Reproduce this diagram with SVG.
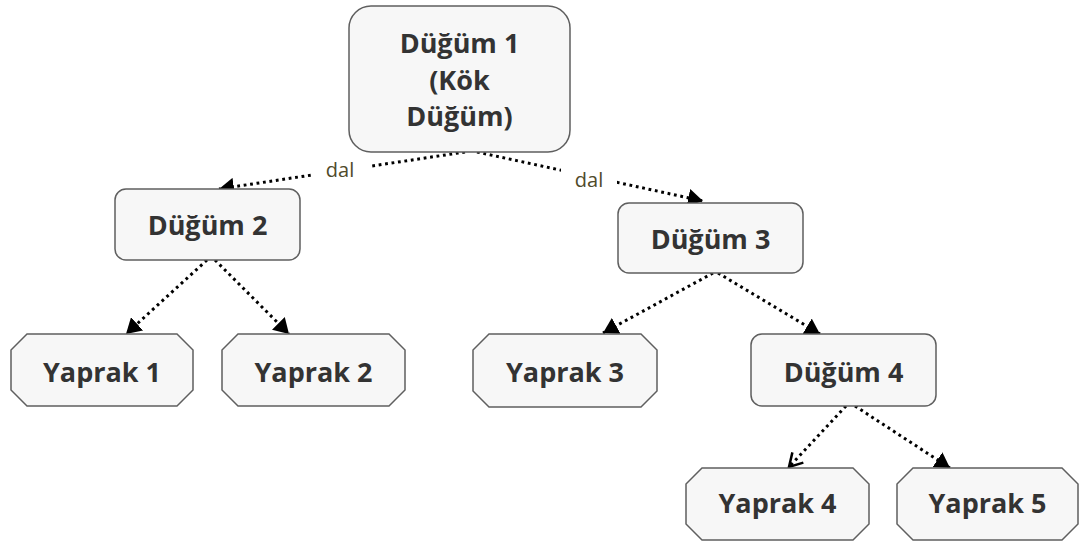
<svg xmlns="http://www.w3.org/2000/svg" width="1080" height="541" viewBox="0 0 1080 541">
  <style>
    .edge { fill: none; stroke: #000; stroke-width: 3; stroke-dasharray: 2.8 3.7; }
    .node { fill: #f7f7f7; stroke: #5f5f5f; stroke-width: 1.5; }
    .label { font-family: "Open Sans", "Noto Sans", "DejaVu Sans", sans-serif; font-weight: bold; font-size: 27px; fill: #333; text-anchor: middle; }
    .edge-label { font-family: "Open Sans", "Noto Sans", "DejaVu Sans", sans-serif; font-size: 20px; fill: #4f4a2a; text-anchor: middle; }
    .edge-label-bg { fill: #fff; }
  </style>
  <defs>
    <marker id="arrow-solid" markerUnits="userSpaceOnUse" markerWidth="16" markerHeight="18" refX="15" refY="9" orient="auto">
      <path d="M0,0 L15,9 L0,18 z" fill="#000"/>
    </marker>
    <marker id="arrow-open" markerUnits="userSpaceOnUse" markerWidth="18" markerHeight="20" refX="14" refY="9" orient="auto">
      <path d="M1,1.5 L14,9 L1,16.5" fill="none" stroke="#000" stroke-width="2.5"/>
    </marker>
  </defs>

  <rect width="1080" height="541" fill="#fff"/>

  <!-- connectors -->
  <g id="connectors">
    <line class="edge" x1="465" y1="152" x2="219" y2="189" marker-end="url(#arrow-solid)"/>
    <line class="edge" x1="477" y1="152" x2="703" y2="201" marker-end="url(#arrow-solid)"/>
    <line class="edge" x1="207" y1="260" x2="126" y2="334" marker-end="url(#arrow-solid)"/>
    <line class="edge" x1="215" y1="260" x2="289" y2="334" marker-end="url(#arrow-solid)"/>
    <line class="edge" x1="713" y1="273" x2="603" y2="333" marker-end="url(#arrow-solid)"/>
    <line class="edge" x1="718" y1="273" x2="820" y2="334" marker-end="url(#arrow-solid)"/>
    <line class="edge" x1="846" y1="406" x2="789" y2="467" marker-end="url(#arrow-open)"/>
    <line class="edge" x1="855" y1="406" x2="950" y2="468" marker-end="url(#arrow-solid)"/>

    <rect class="edge-label-bg" x="313" y="157" width="59" height="25"/>
    <text class="edge-label" x="340" y="177">dal</text>
    <rect class="edge-label-bg" x="561" y="168" width="56" height="25"/>
    <text class="edge-label" x="589" y="187">dal</text>
  </g>

  <!-- internal nodes -->
  <g id="dugum1">
    <rect class="node" x="349" y="6" width="221" height="146" rx="22"/>
    <text class="label" x="459.5" y="53">Düğüm 1</text>
    <text class="label" x="459.5" y="90">(Kök</text>
    <text class="label" x="459.5" y="126">Düğüm)</text>
  </g>
  <g id="dugum2">
    <rect class="node" x="115" y="189" width="185" height="71" rx="11"/>
    <text class="label" x="207.5" y="235">Düğüm 2</text>
  </g>
  <g id="dugum3">
    <rect class="node" x="618" y="203" width="185" height="70" rx="11"/>
    <text class="label" x="710.5" y="249">Düğüm 3</text>
  </g>
  <g id="dugum4">
    <rect class="node" x="751" y="334" width="185" height="72" rx="11"/>
    <text class="label" x="843.5" y="382">Düğüm 4</text>
  </g>

  <!-- leaves -->
  <g id="yaprak1">
    <polygon class="node" points="27,334 177,334 193,350 193,390 177,406 27,406 11,390 11,350"/>
    <text class="label" x="102" y="382">Yaprak 1</text>
  </g>
  <g id="yaprak2">
    <polygon class="node" points="238,334 389,334 405,350 405,390 389,406 238,406 222,390 222,350"/>
    <text class="label" x="313.5" y="382">Yaprak 2</text>
  </g>
  <g id="yaprak3">
    <polygon class="node" points="489,334 641,334 657,350 657,391 641,407 489,407 473,391 473,350"/>
    <text class="label" x="565" y="382">Yaprak 3</text>
  </g>
  <g id="yaprak4">
    <polygon class="node" points="702,468 853,468 869,484 869,524 853,540 702,540 686,524 686,484"/>
    <text class="label" x="777.5" y="513">Yaprak 4</text>
  </g>
  <g id="yaprak5">
    <polygon class="node" points="913,468 1062,468 1078,484 1078,524 1062,540 913,540 897,524 897,484"/>
    <text class="label" x="987.5" y="513">Yaprak 5</text>
  </g>
</svg>
